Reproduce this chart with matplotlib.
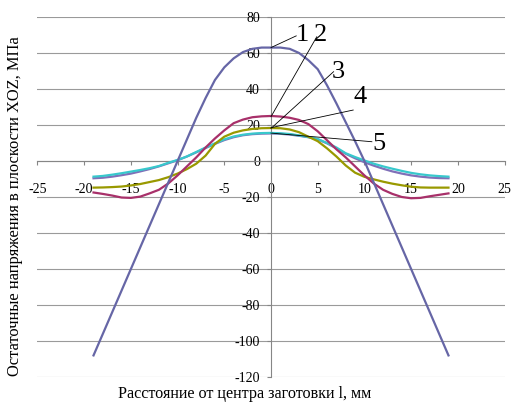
import numpy as np
import matplotlib
matplotlib.use("Agg")
import matplotlib.pyplot as plt

plt.rcParams['font.family'] = ['Liberation Serif', 'DejaVu Serif']
plt.rcParams['axes.unicode_minus'] = False

# distance from billet centre, mm
x = list(range(-19, 20))

# residual stresses, MPa
s1 = [-108, -96, -84, -72, -60, -48, -36, -24, -12, 0, 12, 24, 35, 45, 52, 57, 60.5, 62.3, 63,
      63,
      63, 62.3, 60, 56, 51, 42, 32, 21.5, 11, 0, -12, -24, -36, -48, -60, -72, -84, -96, -108]
s2 = [-17.5, -18.3, -19.2, -20.3, -20.5, -19.8, -18, -16, -12.5, -8, -3, 2, 7.5, 12.5, 17, 21, 23, 24.3, 24.8,
      25,
      24.7, 24, 22.8, 20.5, 16.5, 11.5, 6.5, 2, -3, -8, -12.5, -16, -18.3, -20, -20.7, -20.5, -19.6, -18.8, -18]
s3 = [-14.8, -14.7, -14.5, -14.2, -13.6, -12.8, -11.7, -10.6, -9, -7, -4.5, -1.5, 3, 9.5, 13.5, 15.7, 17, 17.8, 18.2,
      18.3,
      18.2, 17.5, 16, 13.5, 11, 7, 2.5, -2.5, -6.5, -8.8, -10.2, -11.5, -12.6, -13.5, -14.3, -14.7, -14.8, -14.8, -14.8]
s4 = [-9.6, -9.3, -8.7, -7.9, -7, -5.8, -4.5, -3, -1.3, 0.4, 2.5, 4.8, 7.2, 9.5, 11.6, 13.2, 14.3, 14.9, 15.2,
      15.3,
      15.1, 14.7, 14, 13.2, 12, 9.8, 7, 4, 1.5, -0.7, -2.6, -4.3, -5.8, -7, -8, -8.7, -9.2, -9.5, -9.6]
s5 = [-8.7, -8.3, -7.6, -6.8, -5.9, -5, -4, -2.8, -1, 0.6, 2.5, 5, 7.5, 9.8, 12, 13.6, 14.6, 15.2, 15.5,
      15.6,
      15.4, 15, 14.2, 13.3, 12.2, 10, 7.5, 4.3, 2.2, 0.3, -1.5, -3, -4.3, -5.5, -6.6, -7.4, -8, -8.4, -8.7]

labels = ["1", "2", "3", "4", "5"]
label_pos = [(3.3, 70), (5.3, 70), (7.2, 49.5), (9.5, 35.5), (11.6, 9.5)]
arrow_start = [(0, 63), (0, 24.6), (0, 18.1), (0, 18.5), (0, 15.5)]
arrow_end = [(2.7, 69.5), (4.9, 69), (6.7, 49.6), (8.8, 28.3), (10.8, 10.7)]

fig = plt.figure(figsize=(5.12, 4.04), dpi=100)
ax = fig.add_axes([0.0732, 0.0668, 0.9122, 0.8912])

colors = ['#6666a6', '#a8306a', '#999900', '#8070b8', '#38c8cc']
ax.plot(x, s4, color=colors[3], lw=1.6, zorder=3)
ax.plot(x, s5, color=colors[4], lw=1.6, zorder=3)
ax.plot(x, s3, color=colors[2], lw=1.6, zorder=3)
ax.plot(x, s2, color=colors[1], lw=1.6, zorder=3)
ax.plot(x, s1, color=colors[0], lw=1.6, zorder=3)

for lab, p, a, b in zip(labels, label_pos, arrow_start, arrow_end):
    ax.plot([a[0], b[0]], [a[1], b[1]], color='black', lw=0.6, zorder=4)
    ax.text(p[0], p[1], lab, fontsize=19, ha='center', va='center')

ax.set_xlim(-25, 25)
ax.set_ylim(-120, 80)
ax.set_xticks(range(-25, 26, 5))
ax.set_yticks(range(-120, 81, 20))

ax.spines['left'].set_position(('data', 0))
ax.spines['bottom'].set_position(('data', 0))
ax.spines['top'].set_visible(False)
ax.spines['right'].set_visible(False)
for sp in ['left', 'bottom']:
    ax.spines[sp].set_color('#868686')
    ax.spines[sp].set_linewidth(0.8)

ax.yaxis.grid(True, color='#9a9a9a', lw=0.8)
ax.set_axisbelow(True)
ax.tick_params(axis='both', length=3, color='#868686', labelsize=10)
ax.tick_params(axis='x', pad=13)
ax.tick_params(axis='y', pad=5)

fig.text(0.478, 0.025, "Расстояние от центра заготовки l, мм", fontsize=11.6,
         ha='center', va='center')
fig.text(0.03, 0.49, "Остаточные напряжения в плоскости XOZ, МПа", fontsize=11.9,
         ha='center', va='center', rotation=90)

fig.savefig("out.png", dpi=100)
